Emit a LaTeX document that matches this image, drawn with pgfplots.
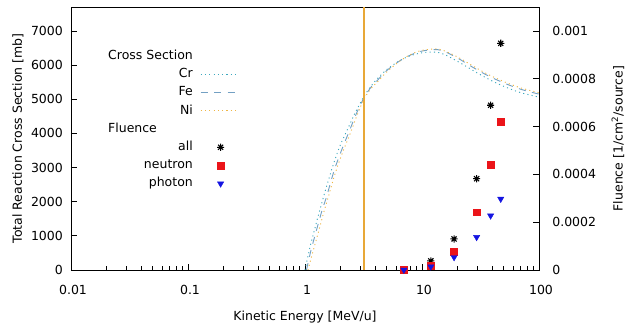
\documentclass[border=0pt]{standalone}
\usepackage{fontspec}
\setmainfont{DejaVu Sans}
\usepackage{pgfplots}
\pgfplotsset{compat=1.18}
\definecolor{crc}{RGB}{60,168,190}
\definecolor{fec}{RGB}{115,160,195}
\definecolor{nic}{RGB}{238,182,70}
\definecolor{vlc}{RGB}{232,168,56}
\definecolor{nred}{RGB}{235,20,25}
\definecolor{pblue}{RGB}{20,20,225}
\newcommand{\fs}{\fontsize{12.5}{15}\selectfont}
\pgfdeclareplotmark{gstar}{%
 \pgfpathmoveto{\pgfqpoint{-\pgfplotmarksize}{0pt}}\pgfpathlineto{\pgfqpoint{\pgfplotmarksize}{0pt}}%
 \pgfpathmoveto{\pgfqpoint{0pt}{-\pgfplotmarksize}}\pgfpathlineto{\pgfqpoint{0pt}{\pgfplotmarksize}}%
 \pgfpathmoveto{\pgfqpoint{-0.707\pgfplotmarksize}{-0.707\pgfplotmarksize}}\pgfpathlineto{\pgfqpoint{0.707\pgfplotmarksize}{0.707\pgfplotmarksize}}%
 \pgfpathmoveto{\pgfqpoint{-0.707\pgfplotmarksize}{0.707\pgfplotmarksize}}\pgfpathlineto{\pgfqpoint{0.707\pgfplotmarksize}{-0.707\pgfplotmarksize}}%
 \pgfusepathqstroke}
\tikzset{
 cr/.style={draw=crc, line width=0.9pt, dash pattern=on 1.1pt off 3.2pt},
 fe/.style={draw=fec, line width=0.9pt, dash pattern=on 7pt off 6.5pt},
 ni/.style={draw=nic, line width=0.9pt, dash pattern=on 1.1pt off 3.2pt},
}
\pgfplotsset{
 /pgf/number format/assume math mode=true,
 /pgf/number format/1000 sep={},
 linelegend/.style={legend image code/.code={\draw[##1] (0pt,0pt) -- (37pt,0pt);}},
 marklegend/.style={legend image code/.code={\draw[mark repeat=2,mark phase=2,##1] plot coordinates {(0pt,0pt) (20pt,0pt) (40pt,0pt)};}},
 mybase/.style={
  scale only axis, width=468pt, height=263pt,
  xmin=0.01, xmax=100,
  tick align=inside,
  major tick length=6pt, minor tick length=3.5pt,
  every tick/.style={black, line width=0.8pt},
  axis line style={black, line width=0.9pt},
  tick label style={font=\fs},
  label style={font=\fs},
 },
}
\begin{document}
\fs
\begin{tikzpicture}
\useasboundingbox (-71pt,-61pt) rectangle (555pt,270pt);
\begin{axis}[xmode=log, mybase,
 ymin=0, ymax=7700,
 ytick={0,1000,2000,3000,4000,5000,6000,7000},
 xtick={0.01,0.1,1,10,100}, xticklabels={0.01,0.1,1,10,100},
 minor xtick={0.02,0.03,0.04,0.05,0.06,0.07,0.08,0.09,0.2,0.3,0.4,0.5,0.6,0.7,0.8,0.9,2,3,4,5,6,7,8,9,20,30,40,50,60,70,80,90},
 xtick pos=bottom, ytick pos=left,
 xticklabel style={anchor=north, yshift=-10.8pt, xshift=2pt},
 yticklabel style={anchor=east, xshift=-3.8pt},
 xlabel={Kinetic Energy [MeV/u]},
 ylabel={Total Reaction Cross Section [mb]},
 every axis x label/.style={at={(axis description cs:0.5,-0.1776)}, anchor=center},
 every axis y label/.style={at={(axis description cs:-0.1132,0.5)}, rotate=90, anchor=center},
]
\addplot[cr, smooth] coordinates {(1.0,0) (1.1,650) (1.2,1150) (1.35,1800) (1.5,2350) (1.75,3100) (2.0,3650) (2.33,4150) (2.7,4620) (3.2,5090) (3.7,5400) (4.2,5620) (5.0,5870) (6.24,6100) (7.5,6240) (8.6,6310) (10,6360) (11.5,6380) (13.7,6370) (16,6290) (20.3,6100) (25,5920) (30,5760) (37,5590) (44.7,5450) (55,5320) (70,5190) (92,5090) (100,5060)};
\addplot[fe, smooth] coordinates {(1.03,0) (1.12,550) (1.25,1150) (1.4,1750) (1.53,2150) (1.77,2900) (2.05,3500) (2.4,4080) (2.75,4580) (3.2,5050) (3.7,5370) (4.2,5570) (5.0,5840) (6.24,6090) (7.5,6250) (8.6,6340) (10,6410) (11.5,6440) (13.7,6450) (16,6380) (20.3,6200) (25,6010) (30,5850) (37,5680) (44.7,5550) (55,5420) (70,5290) (92,5180) (100,5150)};
\addplot[ni, smooth] coordinates {(1.06,0) (1.15,450) (1.3,1100) (1.45,1700) (1.57,2100) (1.8,2800) (2.1,3450) (2.47,4050) (2.8,4550) (3.2,5010) (3.7,5330) (4.2,5520) (5.0,5800) (6.24,6080) (7.5,6260) (8.6,6360) (10,6430) (11.5,6460) (13.7,6470) (16,6400) (20.3,6230) (25,6050) (30,5890) (37,5720) (44.7,5590) (55,5460) (70,5330) (92,5220) (100,5190)};
\addplot[draw=vlc, color=vlc, line width=1.6pt, mark=none] coordinates {(3.2,0) (3.2,7700)};
\end{axis}
\begin{axis}[xmode=log, mybase,
 ymin=0, ymax=0.0011,
 hide x axis, axis y line*=right,
 axis line style={-},
 ytick={0,0.0002,0.0004,0.0006,0.0008,0.001},
 scaled y ticks=false,
 yticklabel style={/pgf/number format/fixed, /pgf/number format/precision=4, anchor=west, xshift=9pt},
 ylabel={Fluence [1/cm\textsuperscript{2}/source]},
 every axis y label/.style={at={(axis description cs:1.1688,0.5)}, rotate=90, anchor=center},
 legend plot pos=right, legend cell align=right,
 legend style={at={(axis description cs:0.0726,0.8555)}, anchor=north west, draw=none, fill=none, font=\fs,
   nodes={inner xsep=0pt, inner ysep=2.85pt, text height=9.5pt, text depth=3pt},
   column sep=7.3pt, row sep=0pt},
]
\addlegendimage{empty legend}\addlegendentry{Cross Section}
\addlegendimage{cr, linelegend}\addlegendentry{Cr}
\addlegendimage{fe, linelegend}\addlegendentry{Fe}
\addlegendimage{ni, linelegend}\addlegendentry{Ni}
\addlegendimage{empty legend}\addlegendentry{\rlap{Fluence}\phantom{Cross Section}}
\addplot[only marks, mark=gstar, mark size=3.6pt, mark options={black, line width=1.1pt}, marklegend]
 coordinates {(7.0,0) (11.9,0.000038) (18.8,0.00013) (29.3,0.000382) (38.6,0.000689) (47.1,0.000948)};
\addlegendentry{all}
\addplot[only marks, mark=square*, mark size=3.4pt, mark options={nred, draw=nred}, marklegend]
 coordinates {(7.0,0) (11.9,0.000017) (18.8,0.0000756) (29.3,0.000242) (38.6,0.000442) (47.1,0.000619)};
\addlegendentry{neutron}
\addplot[only marks, mark=triangle*, mark size=3.6pt, mark options={pblue, draw=pblue, rotate=180}, marklegend]
 coordinates {(7.0,0) (11.9,0.000014) (18.8,0.000053) (29.3,0.000137) (38.6,0.000227) (47.1,0.000297)};
\addlegendentry{photon}
\end{axis}
\end{tikzpicture}
\end{document}
